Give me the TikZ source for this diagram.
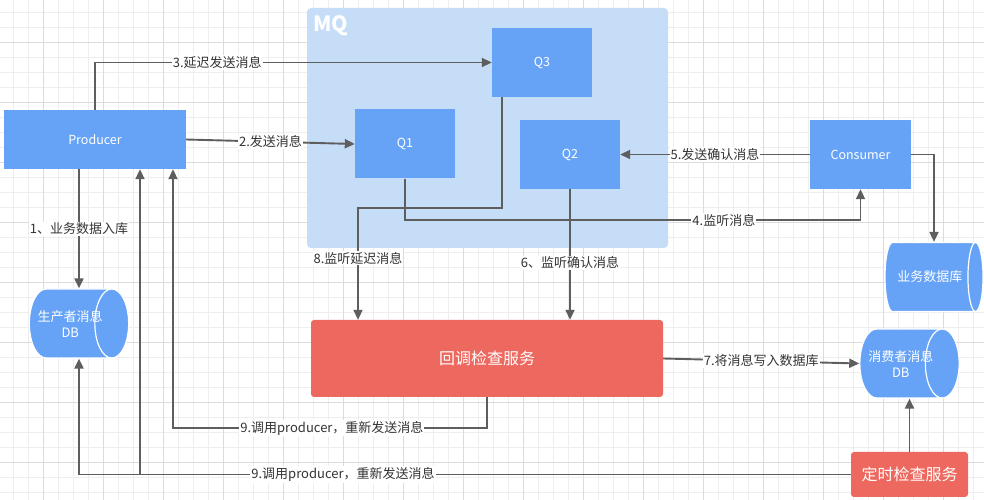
\documentclass[tikz,border=0pt]{standalone}
\usepackage{fontspec}
\setmainfont{Noto Sans CJK SC}
\usetikzlibrary{arrows.meta, shapes.geometric}

\definecolor{boxblue}{RGB}{102,163,246}
\definecolor{mqblue}{RGB}{198,221,248}
\definecolor{svcred}{RGB}{237,104,94}
\definecolor{wiregray}{RGB}{94,94,94}
\definecolor{gridminor}{RGB}{238,238,238}
\definecolor{gridmajor}{RGB}{220,220,220}

\begin{document}
\begin{tikzpicture}[%
        x=1pt, y=1pt,
        blue box/.style = {%
          fill = boxblue,
          text = white,
          font = \fontsize{12.5}{15}\selectfont,
          minimum width = 100pt,
          minimum height = 69pt,
          inner sep = 0pt,
        },
        red box/.style = {%
          fill = svcred,
          text = white,
          rounded corners = 3pt,
          font = \fontsize{16}{19}\selectfont,
          inner sep = 0pt,
        },
        db/.style = {%
          cylinder,
          shape aspect = 1.25,
          anchor = shape center,
          fill = boxblue,
          draw = white,
          line width = 1.2pt,
          text = white,
          align = center,
          font = \fontsize{13}{16}\selectfont,
          minimum width = 69pt,
          minimum height = 98pt,
          inner ysep = 0pt,
          inner xsep = -8.5pt,
        },
        wire/.style = {draw = wiregray, line width = 1.9pt, -{Triangle[length=10pt, width=9pt]}},
        lbl/.style = {fill = white, text = black!80, font = \fontsize{13}{15}\selectfont, inner sep = 1pt},
      ]
      \useasboundingbox (0,0) rectangle (984,500);
      % grid
      \foreach \gx in {13,28,...,983} \draw[gridminor, line width=0.8pt] (\gx,0) -- (\gx,500);
      \foreach \gy in {8,23,...,488} \draw[gridminor, line width=0.8pt] (0,\gy) -- (984,\gy);
      \foreach \gx in {43,103,...,943} \draw[gridmajor, line width=0.9pt] (\gx,0) -- (\gx,500);
      \foreach \gy in {38,98,...,458} \draw[gridmajor, line width=0.9pt] (0,\gy) -- (984,\gy);

      \node[fill=mqblue, rounded corners=4pt, minimum width=361pt, minimum height=240pt] (mq) at (487.5,372) {};
      \node[text=white, font=\bfseries\fontsize{21}{24}\selectfont, inner sep=0pt] (mqlbl) at (331,474) {MQ};

      \node[blue box, minimum width=182pt, minimum height=59pt] (producer) at (95,360.5) {Producer};
      \node[blue box] (q3)       at (542,437.5) {Q3};
      \node[blue box] (q1)       at (405,356)   {Q1};
      \node[blue box] (q2)       at (570,345.5) {Q2};
      \node[blue box, minimum width=101pt] (consumer) at (860.5,345.5) {Consumer};

      \node[db] (bizdb)  at (934,223)    {业务数据库};
      \node[db] (prodb)  at (79,176.5)   {生产者消息\\DB};
      \node[db] (consdb) at (909.5,136.5) {消费者消息\\DB};

      \node[red box, minimum width=352pt, minimum height=77pt] (checksvc) at (487,141.5) {回调检查服务};
      \node[red box, minimum width=117pt, minimum height=45pt] (timersvc) at (909.5,25.5) {定时检查服务};

      \coordinate (dly)  at (358,292);
      \coordinate (fork) at (140,25.5);
      \coordinate (back) at (173,72);

      \draw[wire] (producer.north) |- node[lbl, pos=0.654] {3.延迟发送消息} (q3.west);
      \draw[wire] (producer.east) -- node[lbl] {2.发送消息} (q1.west);
      \draw[wire] (producer.south -| prodb.shape center) -- node[lbl] {1、业务数据入库} (prodb.north -| prodb.shape center);
      \draw[wire] ([xshift=-40pt]q3.south) |- (dly) -- node[lbl, pos=0.45] {8.监听延迟消息} (dly |- checksvc.north);
      \draw[wire] (q1.south) |- node[lbl, pos=0.85] {4.监听消息} ([yshift=-31pt]consumer.south) -- (consumer.south);
      \draw[wire] (q2.south) -- node[lbl, pos=0.565] {6、监听确认消息} (q2.south |- checksvc.north);
      \draw[wire] (consumer.west) -- node[lbl] {5.发送确认消息} (q2.east);
      \draw[wire] (consumer.east) -| (bizdb.north -| bizdb.shape center);
      \draw[wire] (checksvc.east) -- node[lbl] {7.将消息写入数据库} (consdb.west);
      \draw[wire] (timersvc.north) -- (consdb.south -| timersvc.north);
      \draw[wire] (timersvc.west) -| node[lbl, pos=0.329] {9.调用producer，重新发送消息} (prodb.south -| prodb.shape center);
      \draw[wire] (fork) -- (fork |- producer.south);
      \draw[wire] (checksvc.south) |- node[lbl, pos=0.747] {9.调用producer，重新发送消息} (back) -- (back |- producer.south);
    \end{tikzpicture}
\end{document}
